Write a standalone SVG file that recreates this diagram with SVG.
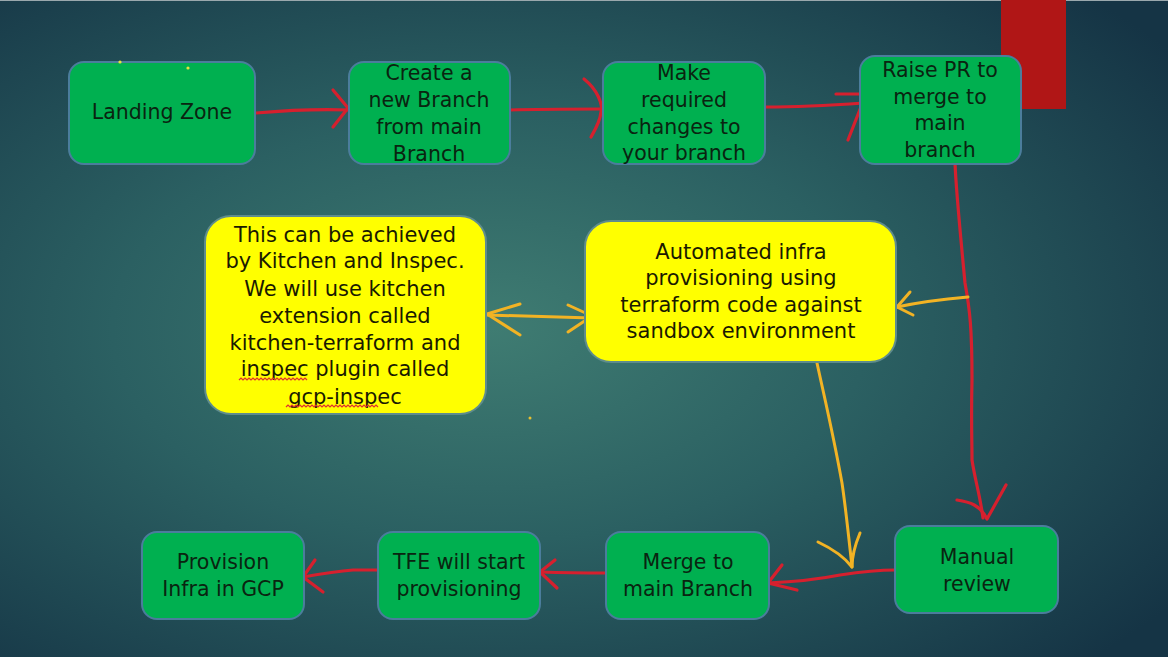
<svg xmlns="http://www.w3.org/2000/svg" width="1168" height="657" viewBox="0 0 1168 657">
<defs>
<radialGradient id="bg" cx="0.42" cy="0.5" r="0.72">
<stop offset="0" stop-color="#3f7c72"/>
<stop offset="0.45" stop-color="#2b6062"/>
<stop offset="1" stop-color="#153445"/>
</radialGradient>
<style>
.g{fill:#00b050;stroke:#4b7d9c;stroke-width:2}
.y{fill:#ffff00;stroke:#5f8c8c;stroke-width:2}
.t{font-family:"DejaVu Sans",sans-serif;font-size:20.5px;fill:#0a2410;text-anchor:middle}
.ty{font-family:"DejaVu Sans",sans-serif;font-size:21px;fill:#1a1a00;text-anchor:middle}
.r{fill:none;stroke:#d6202e;stroke-width:3.2;stroke-linecap:round;stroke-linejoin:round}
.o{fill:none;stroke:#f2b324;stroke-width:3;stroke-linecap:round;stroke-linejoin:round}
.sq{fill:none;stroke:#e03030;stroke-width:1.2}
</style>
</defs>
<rect width="1168" height="657" fill="url(#bg)"/>
<line x1="0" y1="0.5" x2="1168" y2="0.5" stroke="#9aa8ad" stroke-width="1"/>
<rect x="1001" y="0" width="65" height="109" fill="#b01616"/>

<g id="connectors">
<path class="r" d="M256,113 C290,110 320,109 349,110"/>
<path class="r" d="M333,90 L348,108 L333,127"/>
<path class="r" d="M510,110 C540,109 570,109 601,109"/>
<path class="r" d="M584,79 C598,90 603,105 601,112 C600,122 595,130 591,137"/>
<path class="r" d="M766,107 C790,107 820,106 864,103"/>
<path class="r" d="M836,94 L866,94 L848,140"/>
<path class="r" d="M955,163 C956,190 960,230 965,283 C970,310 972,330 972,380 C971,420 972,440 972,460 C975,480 980,495 983,518"/>
<path class="r" d="M957,500 C970,502 980,505 987,519 L1006,485"/>
<path class="o" d="M968,297 C945,299 920,302 897,307"/>
<path class="o" d="M910,292 L897,307 L913,315"/>
<path class="o" d="M487,315 C520,316 555,317 592,318"/>
<path class="o" d="M520,304 L487,314 L520,335"/>
<path class="o" d="M568,305 L592,316 L568,332"/>
<path class="o" d="M817,363 C825,400 833,433 842,483 C846,510 849,540 852,567"/>
<path class="o" d="M818,542 C835,550 845,558 852,567 C852,555 855,545 860,533"/>
<path class="r" d="M895,570 C875,570 860,572 840,575 C815,580 790,582 768,583"/>
<path class="r" d="M782,565 L768,583 L797,590"/>
<path class="r" d="M606,573 C590,573 570,573 541,572"/>
<path class="r" d="M555,560 L540,572 L557,588"/>
<path class="r" d="M382,570 C370,570 360,570 353,570 C340,571 320,574 303,577"/>
<path class="r" d="M315,560 L303,577 L323,592"/>
</g>

<g id="landing-zone">
<rect class="g" x="69" y="62" width="186" height="102" rx="15"/>
<text class="t" x="162" y="119">Landing Zone</text>
</g>
<g id="create-branch">
<rect class="g" x="349" y="62" width="161" height="102" rx="15"/>
<text class="t" x="429" y="80">Create a</text>
<text class="t" x="429" y="107">new Branch</text>
<text class="t" x="429" y="134">from main</text>
<text class="t" x="429" y="161">Branch</text>
</g>
<g id="make-changes">
<rect class="g" x="603" y="62" width="162" height="102" rx="15"/>
<text class="t" x="684" y="80">Make</text>
<text class="t" x="684" y="107">required</text>
<text class="t" x="684" y="134">changes to</text>
<text class="t" x="684" y="160">your branch</text>
</g>
<g id="raise-pr">
<rect class="g" x="860" y="56" width="161" height="108" rx="15"/>
<text class="t" x="940" y="77">Raise PR to</text>
<text class="t" x="940" y="104">merge to</text>
<text class="t" x="940" y="130">main</text>
<text class="t" x="940" y="157">branch</text>
</g>
<g id="kitchen-note">
<rect class="y" x="205" y="216" width="281" height="198" rx="26"/>
<text class="ty" x="345" y="242">This can be achieved</text>
<text class="ty" x="345" y="268">by Kitchen and Inspec.</text>
<text class="ty" x="345" y="296">We will use kitchen</text>
<text class="ty" x="345" y="323">extension called</text>
<text class="ty" x="345" y="350">kitchen-terraform and</text>
<text class="ty" x="345" y="376">inspec plugin called</text>
<text class="ty" x="345" y="404">gcp-inspec</text>
<path class="sq" d="M239,380 l2,-2 l2,2 l2,-2 l2,2 l2,-2 l2,2 l2,-2 l2,2 l2,-2 l2,2 l2,-2 l2,2 l2,-2 l2,2 l2,-2 l2,2 l2,-2 l2,2 l2,-2 l2,2 l2,-2 l2,2 l2,-2 l2,2 l2,-2 l2,2 l2,-2 l2,2 l2,-2 l2,2 l2,-2 l2,2 l2,-2 l2,2"/>
<path class="sq" d="M286,407 l2,-2 l2,2 l2,-2 l2,2 l2,-2 l2,2 l2,-2 l2,2 l2,-2 l2,2 l2,-2 l2,2 l2,-2 l2,2 l2,-2 l2,2 l2,-2 l2,2 l2,-2 l2,2 l2,-2 l2,2 l2,-2 l2,2 l2,-2 l2,2 l2,-2 l2,2 l2,-2 l2,2 l2,-2 l2,2 l2,-2 l2,2 l2,-2 l2,2 l2,-2 l2,2 l2,-2 l2,2 l2,-2 l2,2 l2,-2 l2,2 l2,-2 l2,2"/>
</g>
<g id="automated-infra">
<rect class="y" x="585" y="221" width="311" height="141" rx="26"/>
<text class="ty" x="741" y="259">Automated infra</text>
<text class="ty" x="741" y="285">provisioning using</text>
<text class="ty" x="741" y="312">terraform code against</text>
<text class="ty" x="741" y="338">sandbox environment</text>
</g>
<g id="manual-review">
<rect class="g" x="895" y="526" width="163" height="87" rx="15"/>
<text class="t" x="977" y="564">Manual</text>
<text class="t" x="977" y="591">review</text>
</g>
<g id="merge-main">
<rect class="g" x="606" y="532" width="163" height="87" rx="15"/>
<text class="t" x="688" y="569">Merge to</text>
<text class="t" x="688" y="596">main Branch</text>
</g>
<g id="tfe">
<rect class="g" x="378" y="532" width="162" height="87" rx="15"/>
<text class="t" x="459" y="569">TFE will start</text>
<text class="t" x="459" y="596">provisioning</text>
</g>
<g id="provision-gcp">
<rect class="g" x="142" y="532" width="162" height="87" rx="15"/>
<text class="t" x="223" y="569">Provision</text>
<text class="t" x="223" y="596">Infra in GCP</text>
</g>
<circle cx="120" cy="62" r="1.6" fill="#e8e040"/>
<circle cx="188" cy="68" r="1.6" fill="#e8e040"/>
<circle cx="530" cy="418" r="1.5" fill="#e8c030"/>
</svg>
